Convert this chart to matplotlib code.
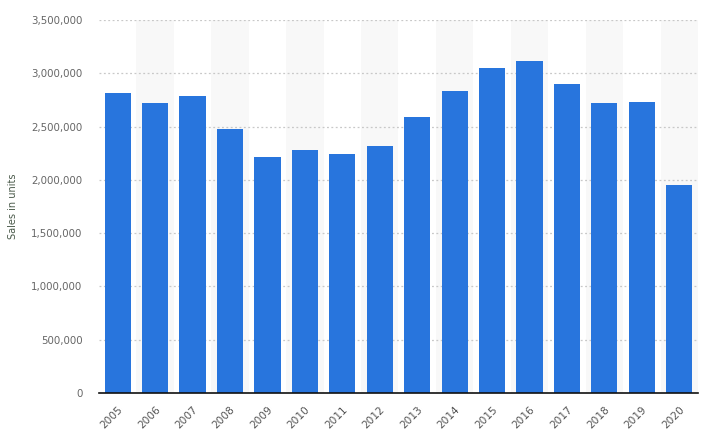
import numpy as np
import matplotlib; matplotlib.use("Agg")
import matplotlib.pyplot as plt
from matplotlib.ticker import FuncFormatter

years = ["2005", "2006", "2007", "2008", "2009", "2010", "2011", "2012",
         "2013", "2014", "2015", "2016", "2017", "2018", "2019", "2020"]
sales = [2815000, 2721000, 2787000, 2477000, 2214000, 2280000, 2243000, 2318000,
         2590000, 2834000, 3050000, 3115000, 2900000, 2721000, 2730000, 1952000]
yticks = [0, 500000, 1000000, 1500000, 2000000, 2500000, 3000000, 3500000]

BAR = "#2875dd"
plt.rcParams["font.family"] = ["DejaVu Sans"]

fig = plt.figure(figsize=(7.05, 4.44), dpi=100)
ax = fig.add_axes([0.1404, 0.1149, 0.8496, 0.8401])
x = np.arange(len(years))

# alternating column shading
for i in x[1::2]:
    ax.axvspan(i - 0.5, i + 0.5, color="#f8f8f8", lw=0, zorder=0)

ax.bar(x, sales, width=0.7, color=BAR, zorder=3)

ax.set_xlim(-0.5, len(years) - 0.5)
ax.set_ylim(0, 3500000)
ax.set_yticks(yticks)
ax.yaxis.set_major_formatter(FuncFormatter(lambda v, p: f"{int(v):,}"))
ax.grid(axis="y", color="#c8c8c8", ls=(0, (1.5, 2)), lw=0.9, zorder=1)
ax.set_axisbelow(False)
for s in ("top", "right", "left"):
    ax.spines[s].set_visible(False)
ax.spines["bottom"].set_color("#111111")
ax.spines["bottom"].set_linewidth(1.2)
ax.spines["bottom"].set_zorder(4)

ax.set_xticks(x)
ax.set_xticklabels(years, rotation=45, ha="right", rotation_mode="anchor")
ax.tick_params(axis="x", length=0, pad=8, labelsize=7.6, labelcolor="#555555")
ax.tick_params(axis="y", length=0, pad=12, labelsize=7.4, labelcolor="#666666")

ax.set_ylabel("Sales in units", fontsize=7, color="#4a5a4a")
ax.yaxis.set_label_coords(13 / 705, 0.5, transform=fig.transFigure)
ax.yaxis.label.set_verticalalignment("center")
ax.yaxis.label.set_y(0.536)

fig.savefig("out.png", dpi=100)
